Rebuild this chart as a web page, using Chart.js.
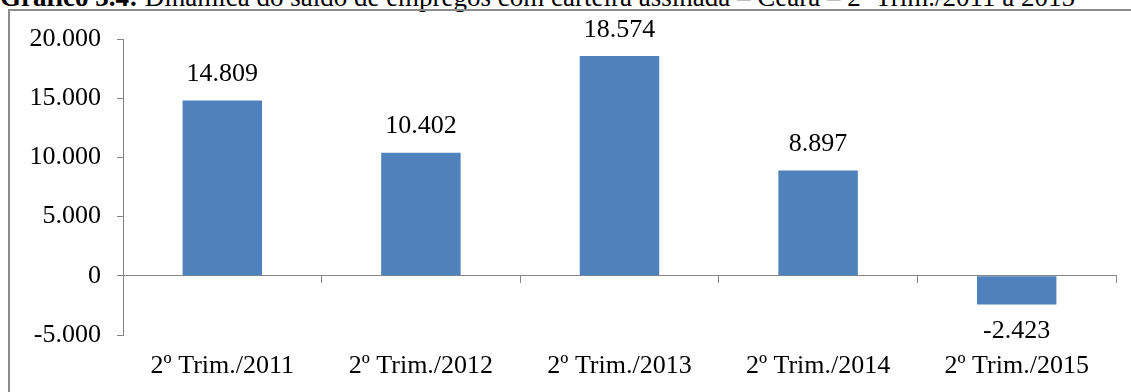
<!DOCTYPE html>
<html>
<head>
<meta charset="utf-8">
<script src="https://cdn.jsdelivr.net/npm/chart.js@4.4.0/dist/chart.umd.min.js"></script>
<style>
  html, body { margin: 0; padding: 0; background: #fff; overflow: hidden; }
  body { width: 1131px; height: 392px; position: relative; }
  #title {
    position: absolute; left: 0; top: -18px; white-space: nowrap;
    font-family: "Liberation Serif", "Times New Roman", serif;
    font-size: 27px; line-height: 30px; color: #000;
  }
  #frame {
    position: absolute; left: 8px; top: 9px; width: 1200px; height: 500px;
    border: 2px solid #8c8c8c; box-sizing: border-box;
  }
  #c { position: absolute; left: 0; top: 0; }
</style>
</head>
<body>
<div id="title"><b>Gráfico 3.4:</b> Dinâmica do saldo de empregos com carteira assinada – Ceará – 2º Trim./2011 a 2015</div>
<div id="frame"></div>
<canvas id="c" width="1131" height="392"></canvas>
<script>
const categories = ['2º Trim./2011', '2º Trim./2012', '2º Trim./2013', '2º Trim./2014', '2º Trim./2015'];
const saldo = [14809, 10402, 18574, 8897, -2423];
const yTicks = [-5000, 0, 5000, 10000, 15000, 20000];

const serif = 'Liberation Serif, Times New Roman, serif';
const axisGray = '#868686';

function fmt(v) {
    const s = Math.abs(v).toString().replace(/\B(?=(\d{3})+(?!\d))/g, '.');
    return (v < 0 ? '-' : '') + s;
}

// value labels above / below each bar
const barLabels = {
    id: 'barLabels',
    afterDatasetsDraw(chart) {
        const ctx = chart.ctx;
        const meta = chart.getDatasetMeta(0);
        ctx.save();
        ctx.font = '26px ' + serif;
        ctx.fillStyle = '#000';
        ctx.textAlign = 'center';
        ctx.textBaseline = 'middle';
        meta.data.forEach((bar, i) => {
            const v = saldo[i];
            const y = v >= 0 ? bar.y - 26 : bar.y + 27;
            ctx.fillText(fmt(v), bar.x, y);
        });
        ctx.restore();
    }
};

const chart = new Chart(document.getElementById('c'), {
    type: 'bar',
    data: {
        labels: categories,
        datasets: [{
            data: saldo,
            backgroundColor: '#4F81BD',
            borderWidth: 0,
            barPercentage: 0.4,
            categoryPercentage: 1
        }]
    },
    options: {
        responsive: false,
        animation: false,
        layout: { padding: { left: 0, right: 15, top: 39, bottom: 0 } },
        plugins: {
            legend: { display: false },
            tooltip: { enabled: false }
        },
        scales: {
            x: {
                position: 'bottom',
                grid: { display: false, drawTicks: false },
                border: { display: false },
                ticks: {
                    color: '#000',
                    padding: 16,
                    maxRotation: 0,
                    autoSkip: false,
                    font: { family: serif, size: 26 }
                },
                afterFit(scale) { scale.height = 57; }
            },
            x2: {
                type: 'category',
                position: { y: 0 },
                offset: true,
                grid: {
                    offset: true,
                    drawOnChartArea: false,
                    drawTicks: true,
                    tickLength: 7,
                    color: axisGray
                },
                border: { display: true, color: axisGray, width: 1 },
                ticks: { display: false }
            },
            y: {
                min: -5000,
                max: 20000,
                afterBuildTicks(scale) {
                    scale.ticks = yTicks.map(v => ({ value: v }));
                },
                grid: {
                    drawOnChartArea: false,
                    drawTicks: true,
                    tickLength: 6,
                    color: axisGray
                },
                border: { display: true, color: axisGray, width: 1 },
                ticks: {
                    color: '#000',
                    padding: 16,
                    font: { family: serif, size: 26 },
                    callback: v => fmt(v)
                },
                afterFit(scale) { scale.width = 123; }
            }
        }
    },
    plugins: [barLabels]
});
</script>
</body>
</html>
